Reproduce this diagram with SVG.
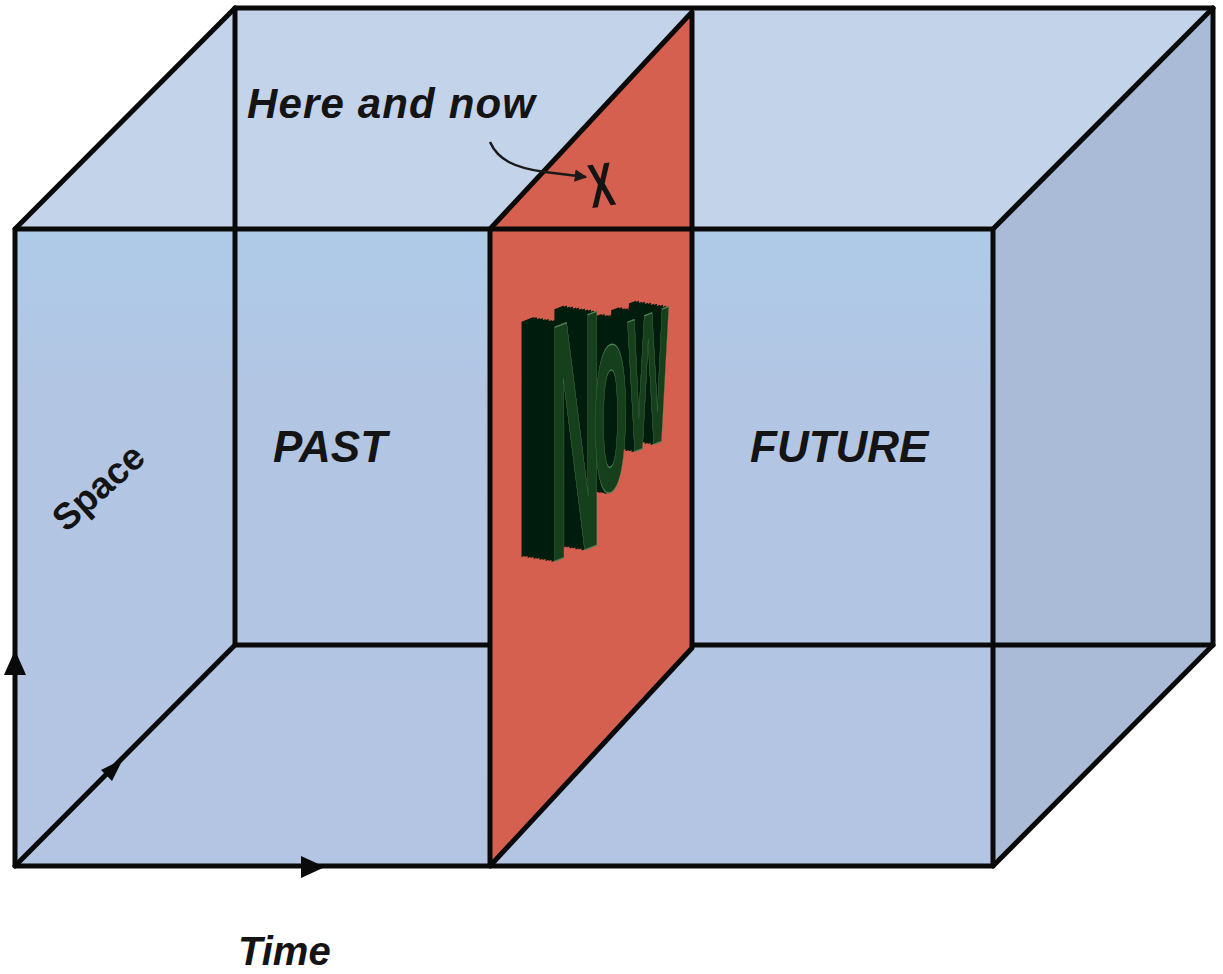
<svg xmlns="http://www.w3.org/2000/svg" width="1223" height="974" viewBox="0 0 1223 974">
  <style>
    .edge { fill: none; stroke: #0a0a0a; stroke-width: 5; stroke-linejoin: round; stroke-linecap: round; }
    .plane { fill: #d5604f; stroke: #0a0a0a; stroke-width: 5; stroke-linejoin: round; }
    .lbl { font-family: "Liberation Sans", Arial, sans-serif; font-weight: bold; font-style: italic; fill: #141414; }
    .head { fill: #0a0a0a; }
  </style>
  <defs>
    <linearGradient id="frontGrad" x1="0" y1="0" x2="0" y2="1">
      <stop offset="0" stop-color="#aecbe8"/>
      <stop offset="0.25" stop-color="#b2c6e4"/>
      <stop offset="1" stop-color="#b3c5e3"/>
    </linearGradient>
    <marker id="arr" viewBox="0 0 10 10" refX="9" refY="5" markerWidth="5" markerHeight="5" orient="auto" markerUnits="strokeWidth">
      <path d="M0,0 L10,5 L0,10 Z" fill="#1a1a1a"/>
    </marker>
    <filter id="extrude" filterUnits="userSpaceOnUse" x="470" y="290" width="240" height="300">
      <feOffset in="SourceAlpha" dx="-3" dy="-0.5" result="a1"/>
      <feOffset in="SourceAlpha" dx="-6" dy="-1" result="a2"/>
      <feOffset in="SourceAlpha" dx="-9" dy="-1.5" result="a3"/>
      <feOffset in="SourceAlpha" dx="-12" dy="-2" result="a4"/>
      <feOffset in="SourceAlpha" dx="-15" dy="-2.5" result="a5"/>
      <feOffset in="SourceAlpha" dx="-18" dy="-3" result="a6"/>
      <feOffset in="SourceAlpha" dx="-21" dy="-3.5" result="a7"/>
      <feOffset in="SourceAlpha" dx="-24" dy="-4" result="a8"/>
      <feOffset in="SourceAlpha" dx="-27" dy="-4.5" result="a9"/>
      <feOffset in="SourceAlpha" dx="-30" dy="-5" result="a10"/>
      <feOffset in="SourceAlpha" dx="-33" dy="-5.5" result="a11"/>
      <feMerge result="stack">
        <feMergeNode in="a1"/><feMergeNode in="a2"/><feMergeNode in="a3"/><feMergeNode in="a4"/>
        <feMergeNode in="a5"/><feMergeNode in="a6"/><feMergeNode in="a7"/><feMergeNode in="a8"/>
        <feMergeNode in="a9"/><feMergeNode in="a10"/><feMergeNode in="a11"/>
      </feMerge>
      <feFlood flood-color="#061a09" result="dk"/>
      <feComposite in="dk" in2="stack" operator="in" result="ext"/>
      <feMerge>
        <feMergeNode in="ext"/>
        <feMergeNode in="SourceGraphic"/>
      </feMerge>
    </filter>
  </defs>

  <rect width="1223" height="974" fill="#ffffff"/>

  <g id="box-faces">
    <polygon points="15,229 235,8 1213,8 993,229" fill="#c3d3ea"/>
    <rect x="15" y="229" width="978" height="637" fill="url(#frontGrad)"/>
    <polygon points="993,229 1213,8 1213,645 993,866" fill="#a9bbd7"/>
  </g>

  <g id="box-back-edges">
    <polyline class="edge" points="235,645 235,8 1213,8 1213,645 235,645"/>
    <line class="edge" x1="15" y1="229" x2="235" y2="8"/>
    <line class="edge" x1="993" y1="229" x2="1213" y2="8"/>
    <line class="edge" x1="993" y1="866" x2="1213" y2="645"/>
    <line class="edge" x1="15" y1="866" x2="235" y2="645"/>
  </g>

  <g id="now-plane">
    <polygon class="plane" points="490,229 692,12 692,648 490,866"/>
    <g filter="url(#extrude)">
      <text transform="matrix(0.21,-0.08,0,1,550,563)" font-family="'Liberation Sans', Arial, sans-serif" font-weight="bold" fill="#15401c" stroke="#4f8257" stroke-width="1.3" vector-effect="non-scaling-stroke"><tspan font-size="340">N</tspan><tspan font-size="270" dx="-40" dy="-50">o</tspan><tspan font-size="250" dx="0" dy="-29">w</tspan></text>
    </g>
  </g>

  <g id="box-front-edges">
    <rect class="edge" x="15" y="229" width="978" height="637"/>
  </g>

  <g id="connectors">
    <polygon class="head" points="15,650 4,675 26,675"/>
    <polygon class="head" points="123,759 112,781 101,770"/>
    <polygon class="head" points="325,867 301,856 301,878"/>
    <path d="M490,142 C498,160 515,168 545,172 L586,177" fill="none" stroke="#1a1a1a" stroke-width="2.5" marker-end="url(#arr)"/>
  </g>

  <g id="labels">
    <text class="lbl" x="247" y="118" font-size="42" textLength="288" lengthAdjust="spacing">Here and now</text>
    <text transform="translate(592,208) rotate(-8) scale(0.6,1)" font-family="'Liberation Sans', Arial, sans-serif" font-weight="bold" font-size="62" fill="#141414">X</text>
    <text class="lbl" x="273" y="462" font-size="44">PAST</text>
    <text class="lbl" x="750" y="462" font-size="44">FUTURE</text>
    <text transform="translate(98,487) rotate(-42)" text-anchor="middle" y="13" font-family="'Liberation Sans', Arial, sans-serif" font-weight="bold" font-size="37" fill="#141414">Space</text>
    <text class="lbl" x="238" y="965" font-size="40">Time</text>
  </g>
</svg>
